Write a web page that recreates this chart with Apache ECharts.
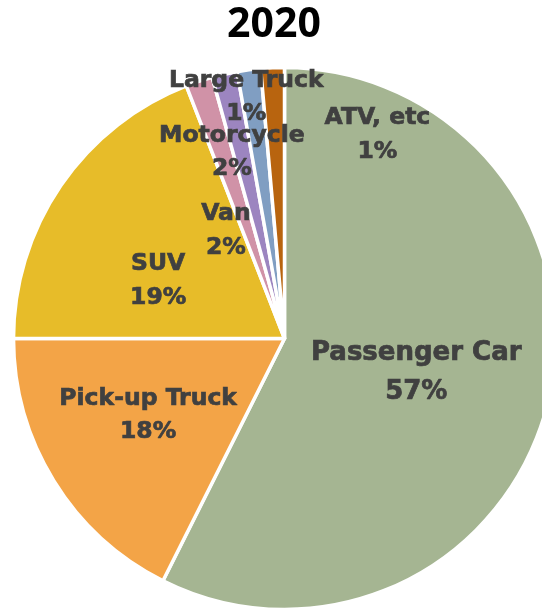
<!DOCTYPE html>
<html>
<head>
<meta charset="utf-8">
<script src="https://cdn.jsdelivr.net/npm/echarts@6/dist/echarts.min.js"></script>
<style>
html,body{margin:0;padding:0;background:#fff;}
#chart{width:542px;height:610px;}
</style>
</head>
<body>
<div id="chart"></div>
<script>
const titleText = '2020';
const categories = ['Passenger Car', 'Pick-up Truck', 'SUV', 'Van', 'Motorcycle', 'Large Truck', 'ATV, etc'];
const shares = [57.4, 17.6, 19.1, 1.6, 1.5, 1.4, 1.4];

const sliceColors = ['#A5B592', '#F3A447', '#E7BC29', '#D092A7', '#9C85C0', '#809EC2', '#B8640F'];
const labelOffsets = [[-3, 2], [-18.5, 4], [-12, 20.5], [-15, 24], [-22, -51], [-20, -104], [99, -65]];

const chart = echarts.init(document.getElementById('chart'), null, {renderer: 'canvas'});

const data = categories.map((name, i) => {
  const big = i === 0;
  return {
    name: name,
    value: shares[i],
    itemStyle: {color: sliceColors[i]},
    label: {
      offset: labelOffsets[i],
      fontSize: big ? 26 : 23.5,
      lineHeight: big ? 39 : 33.5
    }
  };
});

chart.setOption({
  animation: false,
  title: {
    text: titleText,
    left: 274,
    top: 5,
    textAlign: 'center',
    padding: 0,
    textStyle: {
      fontFamily: 'Open Sans',
      fontWeight: 'bold',
      fontSize: 41,
      color: '#000'
    }
  },
  series: [{
    type: 'pie',
    center: [284.5, 338.5],
    radius: 271,
    startAngle: 90,
    clockwise: true,
    percentPrecision: 0,
    avoidLabelOverlap: false,
    silent: true,
    labelLayout: {hideOverlap: false},
    itemStyle: {borderColor: '#ffffff', borderWidth: 3.5},
    label: {
      show: true,
      position: 'inside',
      formatter: '{b}\n{d}%',
      fontFamily: 'DejaVu Sans',
      fontWeight: 'bold',
      color: '#404040',
      textBorderColor: '#404040',
      textBorderWidth: 0.7,
      align: 'center',
      verticalAlign: 'middle'
    },
    labelLine: {show: false},
    emphasis: {disabled: true},
    data: data
  }]
});
</script>
</body>
</html>
